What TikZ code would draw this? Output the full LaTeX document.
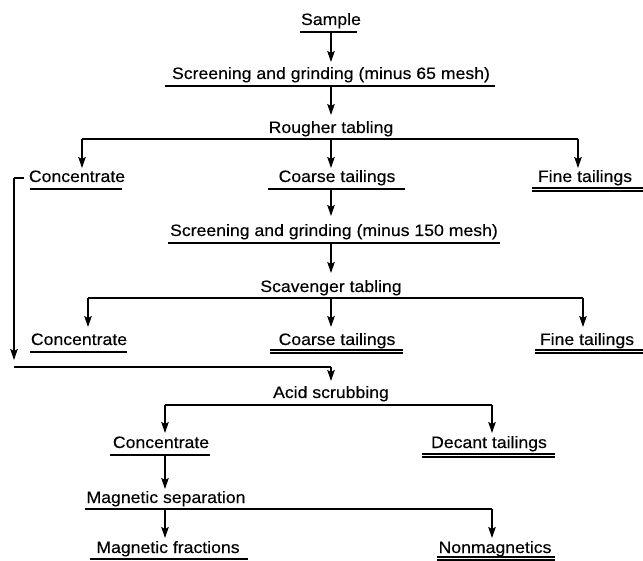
\documentclass[tikz,border=0pt]{standalone}
\usepackage{fontspec}
\setmainfont{Liberation Sans}[FakeStretch=1.07,FakeBold=0.3]
\usetikzlibrary{arrows.meta}
\begin{document}
\begin{tikzpicture}[x=1pt,y=-1pt,
  lbl/.style={inner sep=0pt,anchor=base,font=\fontsize{16.5}{18}\selectfont},
  ln/.style={line width=1.5pt},
  arr/.style={line width=1.5pt,-{Stealth[length=11pt,width=7.5pt,inset=2pt]}},
  dbl/.style={line width=1.1pt}]
\useasboundingbox (0,0) rectangle (643,561);
% nodes (y = baseline)
\node[lbl] (sample) at (331,25) {Sample};
\node[lbl] (scr1) at (331,79) {Screening and grinding (minus 65 mesh)};
\node[lbl] (rough) at (331,133) {Rougher tabling};
\node[lbl] (conc1) at (77,182) {Concentrate};
\node[lbl] (coarse1) at (337,182) {Coarse tailings};
\node[lbl] (fine1) at (585,182) {Fine tailings};
\node[lbl] (scr2) at (334,236) {Screening and grinding (minus 150 mesh)};
\node[lbl] (scav) at (331,292) {Scavenger tabling};
\node[lbl] (conc2) at (79,345) {Concentrate};
\node[lbl] (coarse2) at (337,345) {Coarse tailings};
\node[lbl] (fine2) at (587,345) {Fine tailings};
\node[lbl] (acid) at (331,398) {Acid scrubbing};
\node[lbl] (conc3) at (161,448) {Concentrate};
\node[lbl] (decant) at (489,448) {Decant tailings};
\node[lbl] (magsep) at (166,503) {Magnetic separation};
\node[lbl] (magfrac) at (168,553) {Magnetic fractions};
\node[lbl] (nonmag) at (495,553) {Nonmagnetics};
% underlines
\draw[ln] (300,32) -- (357,32);
\draw[ln] (165,86) -- (495,86);
\draw[ln] (30,189) -- (122,189);
\draw[ln] (268,189) -- (405,189);
\draw[dbl] (532,188) -- (643,188) (532,191) -- (643,191);
\draw[ln] (168,243) -- (500,243);
\draw[ln] (30,352) -- (127,352);
\draw[dbl] (270,350) -- (403,350) (270,353) -- (403,353);
\draw[dbl] (535,350) -- (643,350) (535,353) -- (643,353);
\draw[ln] (110,455) -- (210,455);
\draw[dbl] (422,454) -- (555,454) (422,457) -- (555,457);
\draw[ln] (90,559) -- (248,559);
\draw[dbl] (437,557) -- (555,557) (437,560) -- (555,560);
% connector points
\coordinate (sU) at (331,32);
\coordinate (s1U) at (331,86);
\coordinate (rb) at (331,139);
\coordinate (rbL) at (82,139);
\coordinate (rbR) at (578,139);
\coordinate (c1U) at (331,189);
\coordinate (s2U) at (331,243);
\coordinate (sb) at (331,298);
\coordinate (sbL) at (88,298);
\coordinate (sbR) at (583,298);
\coordinate (brT) at (24,178);
\coordinate (brC) at (14,178);
\coordinate (brB) at (14,367);
\coordinate (jn) at (331,367);
\coordinate (ab) at (331,405);
\coordinate (abL) at (165,405);
\coordinate (abR) at (492,405);
\coordinate (c3U) at (165,455);
\coordinate (mbL) at (85,509);
\coordinate (mb) at (165,509);
\coordinate (mbR) at (492,509);
% connectors
\draw[arr] (sU) -- (331,62);
\draw[arr] (s1U) -- (331,115);
\draw[ln] (rbL) -- (rbR);
\draw[arr] (rbL) -- (82,168);
\draw[arr] (rb) -- (331,168);
\draw[arr] (rbR) -- (578,168);
\draw[arr] (c1U) -- (331,216);
\draw[arr] (s2U) -- (331,273);
\draw[ln] (sbL) -- (sbR);
\draw[arr] (sbL) -- (88,327);
\draw[arr] (sb) -- (331,327);
\draw[arr] (sbR) -- (583,327);
\draw[ln] (brT) -- (brC);
\draw[arr] (brC) -- (14,360);
\draw[ln] (brB) -- (jn);
\draw[arr] (jn) -- (331,381);
\draw[ln] (abL) -- (abR);
\draw[arr] (abL) -- (165,433);
\draw[arr] (abR) -- (492,433);
\draw[arr] (c3U) -- (165,489);
\draw[ln] (mbL) -- (mbR);
\draw[arr] (mb) -- (165,538);
\draw[arr] (mbR) -- (492,538);
\end{tikzpicture}
\end{document}
